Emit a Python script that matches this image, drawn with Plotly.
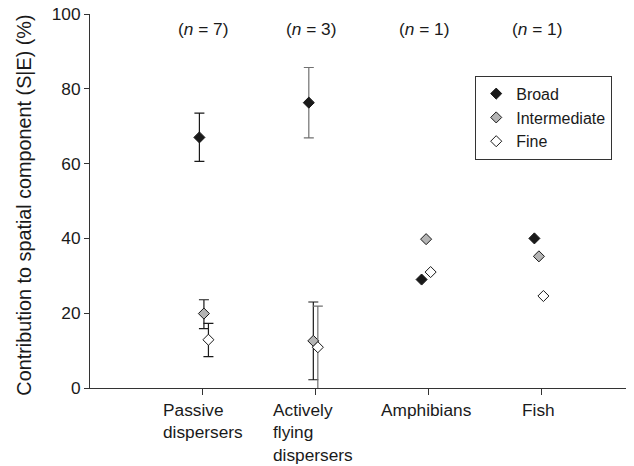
import plotly.graph_objects as go

# ---- data ----
categories = ["Passive<br>dispersers", "Actively<br>flying<br>dispersers", "Amphibians", "Fish"]
n_labels = ["(<i>n</i> = 7)", "(<i>n</i> = 3)", "(<i>n</i> = 1)", "(<i>n</i> = 1)"]
series_names = ["Broad", "Intermediate", "Fine"]
y_title = "Contribution to spatial component (S|E) (%)"

broad = [67.0, 76.3, 29.0, 40.0]
broad_err_plus = [6.5, 9.4, None, None]
broad_err_minus = [6.4, 9.4, None, None]

intermediate = [19.9, 12.6, 39.8, 35.2]
intermediate_err_plus = [3.7, 10.4, None, None]
intermediate_err_minus = [4.0, 10.4, None, None]

fine = [12.9, 10.9, 31.0, 24.6]
fine_err_plus = [4.4, 11.0, None, None]
fine_err_minus = [4.5, 11.6, None, None]

y_ticks = [0, 20, 40, 60, 80, 100]

# ---- style ----
FONT = "Liberation Sans, Arial, sans-serif"
TXT = "#1a1a1a"
FS = 17.3
fills = ["#1a1a1a", "#b4b4b4", "#ffffff"]
offsets = [-0.06, -0.02, 0.02]
cat_shift = [0.03, 0.0, 0.0, 0.0]
err_colors = [["#1a1a1a", "#707070", None, None],
              ["#1a1a1a", "#1a1a1a", None, None],
              ["#1a1a1a", "#707070", None, None]]

values = [broad, intermediate, fine]
plus = [broad_err_plus, intermediate_err_plus, fine_err_plus]
minus = [broad_err_minus, intermediate_err_minus, fine_err_minus]

fig = go.Figure()
for s, name in enumerate(series_names):
    for c in range(len(categories)):
        has_err = plus[s][c] is not None
        fig.add_trace(go.Scatter(
            x=[c + 1 + offsets[s] + cat_shift[c]],
            y=[values[s][c]],
            mode="markers",
            name=name,
            legendgroup=name,
            showlegend=(c == 0),
            marker=dict(symbol="diamond", size=8.5, color=fills[s],
                        line=dict(color="#1a1a1a", width=1)),
            error_y=dict(type="data", symmetric=False,
                         array=[plus[s][c] if has_err else 0],
                         arrayminus=[minus[s][c] if has_err else 0],
                         visible=has_err,
                         color=err_colors[s][c] or "#1a1a1a",
                         thickness=1.2, width=5),
        ))

for c, lab in enumerate(n_labels):
    fig.add_annotation(x=c + 1 + (0 if c == 0 else -0.04), y=96.0, text=lab,
                       showarrow=False, xref="x", yref="y",
                       font=dict(family=FONT, size=FS, color=TXT))

for c, lab in enumerate(categories):
    fig.add_annotation(x=c + 1 + (0 if c == 0 else -0.02), y=0, text=lab,
                       showarrow=False, xref="x", yref="y", align="left",
                       xanchor="center", yanchor="top", yshift=-10,
                       font=dict(family=FONT, size=FS, color=TXT))

# y-axis title as a rotated annotation (axis titles are clamped inside the margin)
fig.add_annotation(x=-0.1217, y=0.489, xref="paper", yref="paper", text=y_title,
                   textangle=-90, showarrow=False, xanchor="center", yanchor="middle",
                   font=dict(family=FONT, size=19.8, color=TXT))

# page body has an 8px margin: shift the figure's own margins to compensate
fig.update_layout(
    width=634, height=466,
    margin=dict(l=82, r=14, t=6, b=86),
    paper_bgcolor="white", plot_bgcolor="white",
    font=dict(family=FONT, size=FS, color=TXT),
    showlegend=True,
    legend=dict(x=0.716, y=0.835, xanchor="left", yanchor="top",
                bordercolor="#333333", borderwidth=1, bgcolor="white",
                font=dict(family=FONT, size=16, color=TXT),
                tracegroupgap=0),
    xaxis=dict(range=[0, 4.77], tickvals=[1, 2, 3, 4], ticktext=["", "", "", ""],
               showgrid=False, zeroline=False, showline=True, linecolor="#333333",
               linewidth=1, ticks="outside", ticklen=6, tickcolor="#333333"),
    yaxis=dict(range=[0, 100], tickvals=y_ticks, showgrid=False, zeroline=False,
               showline=True, linecolor="#333333", linewidth=1,
               ticks="outside", ticklen=5, tickcolor="#333333",
               ticklabeloverflow="allow",
               tickfont=dict(family=FONT, size=FS, color=TXT),
               automargin=False),
)

fig.write_html("out.html")
